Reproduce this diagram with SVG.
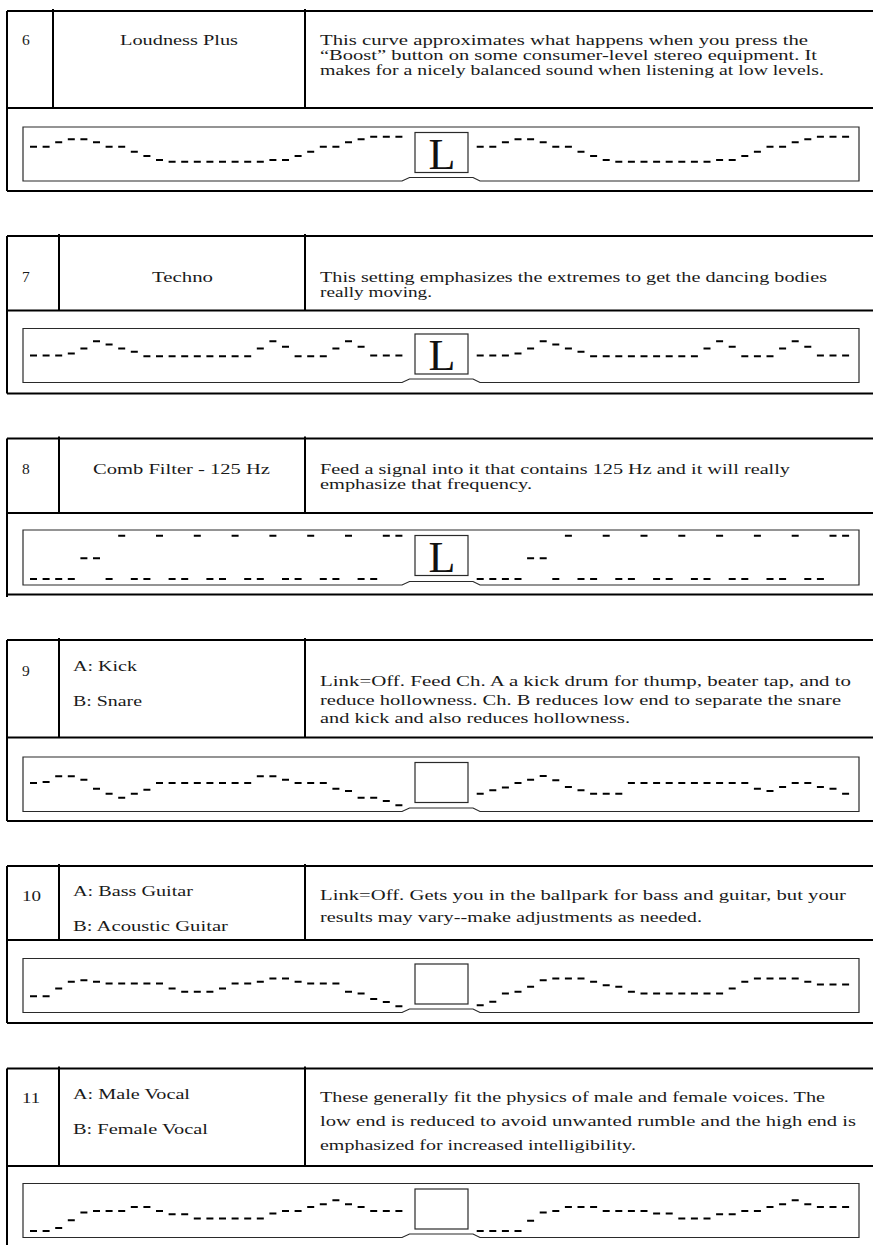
<svg xmlns="http://www.w3.org/2000/svg" xmlns:xlink="http://www.w3.org/1999/xlink" width="873" height="1245" viewBox="0 0 873 1245">
<style>
.frame{fill:none;stroke:#000;stroke-width:2}
.lcd{fill:#fff;stroke:#2a2a2a;stroke-width:1.2}
.sq{fill:#fff;stroke:#2a2a2a;stroke-width:1.2}
.curve{fill:none;stroke:#000;stroke-width:2}
.t{font-family:"Liberation Serif","Times New Roman",serif;font-size:15.5px;fill:#1a1a1a}
.big{font-family:"Liberation Serif","Times New Roman",serif;font-size:44px;fill:#111;text-anchor:middle}
</style>
<defs>
<path id="c6" class="curve" d="M0 19.7h7M12.6 19.7h7M25.2 15.3h7M37.8 12.3h7M50.4 12.3h7M63 15.3h7M75.6 19.7h7M88.2 19.7h7M100.8 24.7h7M113.4 29h7M126 33h7M138.6 34.7h7M151.2 34.7h7M163.8 34.7h7M176.4 34.7h7M189 34.7h7M201.6 34.7h7M214.2 34.7h7M226.8 34.7h7M239.4 33h7M252 33h7M264.6 29h7M277.2 24.7h7M289.8 19.7h7M302.4 19.7h7M315 15.3h7M327.6 12.3h7M340.2 9.7h7M352.8 9.7h7M365.4 9.7h7"/>
<path id="c7" class="curve" d="M0 27h7M12.6 27h7M25.2 27h7M37.8 25h7M50.4 20h7M63 12.7h7M75.6 16h7M88.2 20h7M100.8 23.3h7M113.4 27.7h7M126 27.7h7M138.6 27.7h7M151.2 27.7h7M163.8 27.7h7M176.4 27.7h7M189 27.7h7M201.6 27.7h7M214.2 27.7h7M226.8 20h7M239.4 12.7h7M252 18.3h7M264.6 27.7h7M277.2 27.7h7M289.8 27.7h7M302.4 20h7M315 12.7h7M327.6 18.3h7M340.2 27h7M352.8 27h7M365.4 27h7"/>
<path id="c8" class="curve" d="M0 49h7M12.6 49h7M25.2 49h7M37.8 49h7M50.4 28.3h7M63 28.3h7M75.6 49h7M88.2 5.7h7M100.8 49h7M113.4 49h7M126 5.7h7M138.6 49h7M151.2 49h7M163.8 5.7h7M176.4 49h7M189 49h7M201.6 5.7h7M214.2 49h7M226.8 49h7M239.4 5.7h7M252 49h7M264.6 49h7M277.2 5.7h7M289.8 49h7M302.4 49h7M315 5.7h7M327.6 49h7M340.2 49h7M352.8 5.7h7M365.4 5.7h7"/>
</defs>

<g id="row6">
<path class="frame" d="M7 11H873M7 108H873M7 191H873M7 11V191M53 9V108M305 9V108"/>
<text class="t" x="22" y="44.5">6</text>
<text class="t" x="179" y="44.5" text-anchor="middle" textLength="118" lengthAdjust="spacingAndGlyphs">Loudness Plus</text>
<text class="t" x="320" y="44.5" textLength="488" lengthAdjust="spacingAndGlyphs">This curve approximates what happens when you press the</text>
<text class="t" x="320" y="59.5" textLength="497" lengthAdjust="spacingAndGlyphs">“Boost” button on some consumer-level stereo equipment. It</text>
<text class="t" x="320" y="74.5" textLength="504" lengthAdjust="spacingAndGlyphs">makes for a nicely balanced sound when listening at low levels.</text>
<path class="lcd" d="M23 127H859V181H480L473 177.5H409.5L402 181H23Z"/>
<rect class="sq" x="415" y="132.5" width="53" height="40"/>
<text class="big" x="442" y="168.5">L</text>
<use xlink:href="#c6" transform="translate(30 127)"/>
<use xlink:href="#c6" transform="translate(476.7 127)"/>
</g>

<g id="row7">
<path class="frame" d="M7 236H873M7 310.5H873M7 393.5H873M7 236V393.5M59 234V310.5M305 234V310.5"/>
<text class="t" x="22" y="281.5">7</text>
<text class="t" x="182.5" y="281.5" text-anchor="middle" textLength="61" lengthAdjust="spacingAndGlyphs">Techno</text>
<text class="t" x="320" y="281.5" textLength="507" lengthAdjust="spacingAndGlyphs">This setting emphasizes the extremes to get the dancing bodies</text>
<text class="t" x="320" y="296.5" textLength="112" lengthAdjust="spacingAndGlyphs">really moving.</text>
<path class="lcd" d="M23 328.5H859V382.5H480L473 379H409.5L402 382.5H23Z"/>
<rect class="sq" x="415" y="334" width="53" height="40"/>
<text class="big" x="442" y="370">L</text>
<use xlink:href="#c7" transform="translate(30 328.5)"/>
<use xlink:href="#c7" transform="translate(476.7 328.5)"/>
</g>

<g id="row8">
<path class="frame" d="M7 438.5H873M7 513H873M7 594.5H873M7 438.5V597M59 436.5V513M305 436.5V513"/>
<text class="t" x="22" y="474">8</text>
<text class="t" x="181.5" y="474" text-anchor="middle" textLength="177" lengthAdjust="spacingAndGlyphs">Comb Filter - 125 Hz</text>
<text class="t" x="320" y="474" textLength="470" lengthAdjust="spacingAndGlyphs">Feed a signal into it that contains 125 Hz and it will really</text>
<text class="t" x="320" y="489" textLength="212" lengthAdjust="spacingAndGlyphs">emphasize that frequency.</text>
<path class="lcd" d="M23 530H859V585H480L473 581.5H409.5L402 585H23Z"/>
<rect class="sq" x="415" y="535.5" width="53" height="40"/>
<text class="big" x="442" y="571.5">L</text>
<use xlink:href="#c8" transform="translate(30 530)"/>
<use xlink:href="#c8" transform="translate(476.7 530)"/>
</g>

<g id="row9">
<path class="frame" d="M7 640H873M7 737.5H873M7 821H873M7 640V821M59 638V737.5M305 638V737.5"/>
<text class="t" x="22" y="676">9</text>
<text class="t" x="73" y="671" textLength="64" lengthAdjust="spacingAndGlyphs">A: Kick</text>
<text class="t" x="73" y="706" textLength="69" lengthAdjust="spacingAndGlyphs">B: Snare</text>
<text class="t" x="320" y="686" textLength="531" lengthAdjust="spacingAndGlyphs">Link=Off. Feed Ch. A a kick drum for thump, beater tap, and to</text>
<text class="t" x="320" y="704.5" textLength="521" lengthAdjust="spacingAndGlyphs">reduce hollowness. Ch. B reduces low end to separate the snare</text>
<text class="t" x="320" y="723" textLength="310" lengthAdjust="spacingAndGlyphs">and kick and also reduces hollowness.</text>
<path class="lcd" d="M23 757H859V811.5H480L473 808H409.5L402 811.5H23Z"/>
<rect class="sq" x="415" y="762.5" width="53" height="40"/>
<path class="curve" transform="translate(30 757)" d="M0 26h7M12.6 25h7M25.2 19.3h7M37.8 19.3h7M50.4 22.7h7M63 31.7h7M75.6 36.7h7M88.2 40.7h7M100.8 36.7h7M113.4 32.7h7M126 26h7M138.6 26h7M151.2 26h7M163.8 26h7M176.4 26h7M189 26h7M201.6 26h7M214.2 26h7M226.8 19.3h7M239.4 19.3h7M252 22.7h7M264.6 26h7M277.2 26h7M289.8 26h7M302.4 31.7h7M315 34h7M327.6 40.7h7M340.2 40.7h7M352.8 44h7M365.4 48.3h7"/>
<path class="curve" transform="translate(476.7 757)" d="M0 36.7h7M12.6 33.3h7M25.2 30.6h7M37.8 26h7M50.4 22.7h7M63 19h7M75.6 23.3h7M88.2 30h7M100.8 33.3h7M113.4 36.7h7M126 36.7h7M138.6 36.7h7M151.2 26h7M163.8 26h7M176.4 26h7M189 26h7M201.6 26h7M214.2 26h7M226.8 26h7M239.4 26h7M252 26h7M264.6 26h7M277.2 31.7h7M289.8 34h7M302.4 30h7M315 26h7M327.6 26h7M340.2 30h7M352.8 31.7h7M365.4 36.7h7"/>
</g>

<g id="row10">
<path class="frame" d="M7 866H873M7 940H873M7 1023H873M7 866V1023M59 864V940M305 864V940"/>
<text class="t" x="22" y="901" textLength="19" lengthAdjust="spacingAndGlyphs">10</text>
<text class="t" x="73" y="896" textLength="120" lengthAdjust="spacingAndGlyphs">A: Bass Guitar</text>
<text class="t" x="73" y="931" textLength="155" lengthAdjust="spacingAndGlyphs">B: Acoustic Guitar</text>
<text class="t" x="320" y="900" textLength="526" lengthAdjust="spacingAndGlyphs">Link=Off. Gets you in the ballpark for bass and guitar, but your</text>
<text class="t" x="320" y="922" textLength="382" lengthAdjust="spacingAndGlyphs">results may vary--make adjustments as needed.</text>
<path class="lcd" d="M23 958.5H859V1012.5H480L473 1009H409.5L402 1012.5H23Z"/>
<rect class="sq" x="415" y="964" width="53" height="40"/>
<path class="curve" transform="translate(30 958.5)" d="M0 37.7h7M12.6 37.7h7M25.2 30h7M37.8 23.3h7M50.4 21.7h7M63 23.3h7M75.6 25h7M88.2 25h7M100.8 25h7M113.4 25h7M126 25h7M138.6 30h7M151.2 33.3h7M163.8 33.3h7M176.4 33.3h7M189 30h7M201.6 25h7M214.2 25h7M226.8 23.3h7M239.4 20h7M252 20h7M264.6 23.3h7M277.2 25h7M289.8 25h7M302.4 25h7M315 33.3h7M327.6 35h7M340.2 40.5h7M352.8 43.5h7M365.4 47.7h7"/>
<path class="curve" transform="translate(476.7 958.5)" d="M0 46.7h7M12.6 43.3h7M25.2 35h7M37.8 33.3h7M50.4 28.3h7M63 21.7h7M75.6 20h7M88.2 20h7M100.8 20h7M113.4 23.3h7M126 26.7h7M138.6 28.3h7M151.2 33.3h7M163.8 35h7M176.4 35h7M189 35h7M201.6 35h7M214.2 35h7M226.8 35h7M239.4 35h7M252 30h7M264.6 23.3h7M277.2 20h7M289.8 20h7M302.4 20h7M315 20h7M327.6 23.3h7M340.2 26h7M352.8 26h7M365.4 26h7"/>
</g>

<g id="row11">
<path class="frame" d="M7 1068.5H873M7 1166H873M7 1068.5V1245M59 1066.5V1166M305 1066.5V1166"/>
<text class="t" x="22" y="1103" textLength="18" lengthAdjust="spacingAndGlyphs">11</text>
<text class="t" x="73" y="1099" textLength="117" lengthAdjust="spacingAndGlyphs">A: Male Vocal</text>
<text class="t" x="73" y="1134" textLength="135" lengthAdjust="spacingAndGlyphs">B: Female Vocal</text>
<text class="t" x="320" y="1102" textLength="505" lengthAdjust="spacingAndGlyphs">These generally fit the physics of male and female voices. The</text>
<text class="t" x="320" y="1126" textLength="536" lengthAdjust="spacingAndGlyphs">low end is reduced to avoid unwanted rumble and the high end is</text>
<text class="t" x="320" y="1150" textLength="316" lengthAdjust="spacingAndGlyphs">emphasized for increased intelligibility.</text>
<path class="lcd" d="M23 1183.5H859V1237.5H480L473 1234H409.5L402 1237.5H23Z"/>
<rect class="sq" x="415" y="1189" width="53" height="40"/>
<path class="curve" transform="translate(30 1183.5)" d="M0 47.4h7M12.6 47.4h7M25.2 44.4h7M37.8 36.7h7M50.4 29h7M63 27.4h7M75.6 27.4h7M88.2 27.4h7M100.8 23.4h7M113.4 23.4h7M126 27.4h7M138.6 30.7h7M151.2 30.7h7M163.8 35h7M176.4 35h7M189 35h7M201.6 35h7M214.2 35h7M226.8 35h7M239.4 30h7M252 27.4h7M264.6 27.4h7M277.2 23.4h7M289.8 20.7h7M302.4 16.7h7M315 20.7h7M327.6 23.4h7M340.2 27.4h7M352.8 27.4h7M365.4 27.4h7"/>
<path class="curve" transform="translate(476.7 1183.5)" d="M0 47.4h7M12.6 47.4h7M25.2 47.4h7M37.8 47.4h7M50.4 37.3h7M63 29h7M75.6 27.4h7M88.2 23.4h7M100.8 23.4h7M113.4 23.4h7M126 27.4h7M138.6 27.4h7M151.2 27.4h7M163.8 27.4h7M176.4 30h7M189 30h7M201.6 35h7M214.2 35h7M226.8 35h7M239.4 30.7h7M252 30.7h7M264.6 27.4h7M277.2 27.4h7M289.8 23.4h7M302.4 20.7h7M315 16.7h7M327.6 20.7h7M340.2 23.4h7M352.8 23.4h7M365.4 23.4h7"/>
</g>
</svg>
